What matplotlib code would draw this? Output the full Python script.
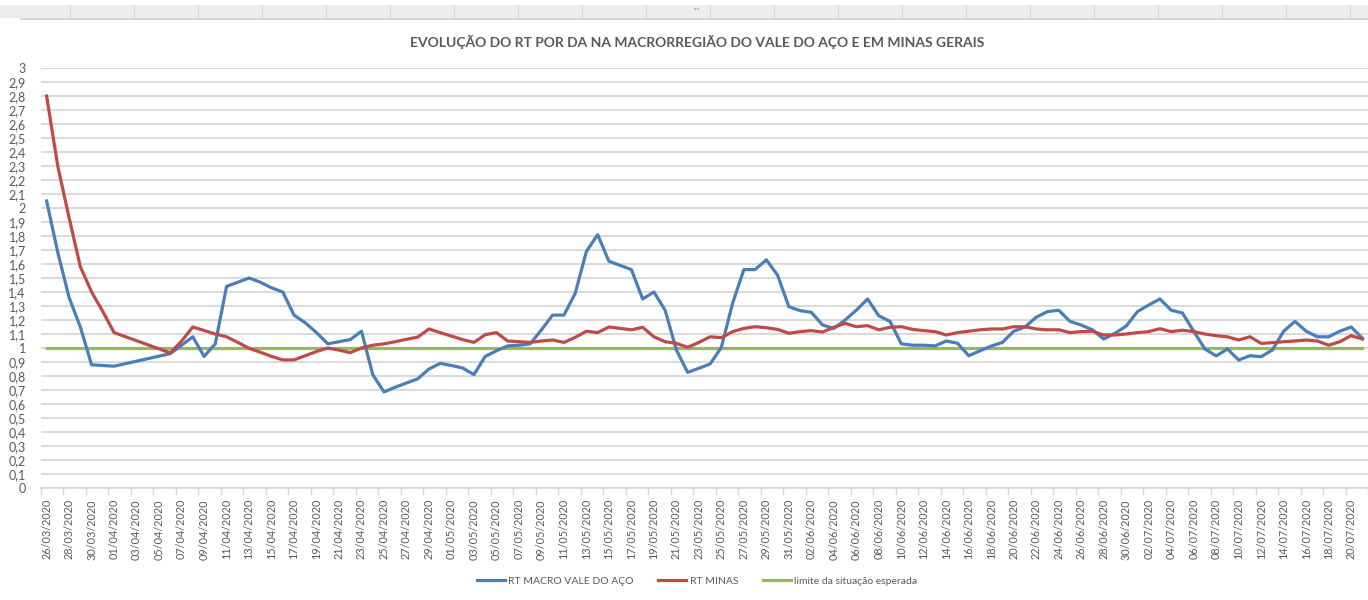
import matplotlib
matplotlib.use("Agg")
import matplotlib.pyplot as plt
from matplotlib.lines import Line2D
from matplotlib.patches import Rectangle
import pandas as pd

plt.rcParams['font.family'] = ['Lato', 'DejaVu Sans']

# ---- data ----
dates = pd.date_range("2020-03-26", "2020-07-21", freq="D")
date_labels = [d.strftime("%d/%m/%Y") for d in dates]

rt_macro_vale_do_aco = [
    2.05, 1.68, 1.36, 1.15, 0.88, 0.875, 0.87, 0.888, 0.906, 0.924,
    0.942, 0.96, 1.02, 1.08, 0.94, 1.03, 1.44, 1.47, 1.50, 1.47,
    1.43, 1.40, 1.235, 1.18, 1.11, 1.03, 1.045, 1.06, 1.12, 0.81,
    0.686, 0.72, 0.75, 0.78, 0.85, 0.89, 0.875, 0.857, 0.81, 0.94,
    0.98, 1.015, 1.02, 1.03, 1.13, 1.235, 1.235, 1.39, 1.69, 1.81,
    1.62, 1.59, 1.56, 1.35, 1.40, 1.27, 0.986, 0.826, 0.855, 0.886,
    1.005, 1.32, 1.56, 1.56, 1.63, 1.52, 1.295, 1.267, 1.255, 1.164,
    1.14, 1.20, 1.27, 1.35, 1.23, 1.19, 1.03, 1.02, 1.02, 1.015,
    1.05, 1.034, 0.945, 0.98, 1.014, 1.04, 1.12, 1.15, 1.22, 1.26,
    1.27, 1.19, 1.164, 1.13, 1.064, 1.105, 1.157, 1.26, 1.307, 1.35,
    1.27, 1.25, 1.12, 0.993, 0.943, 0.993, 0.914, 0.945, 0.938, 0.986,
    1.12, 1.19, 1.12, 1.08, 1.08, 1.12, 1.15, 1.07,
]

rt_minas = [
    2.80, 2.295, 1.93, 1.58, 1.40, 1.26, 1.11, 1.081, 1.052, 1.023,
    0.994, 0.965, 1.05, 1.15, 1.125, 1.10, 1.08, 1.04, 0.998, 0.97,
    0.94, 0.915, 0.915, 0.945, 0.975, 1.0, 0.985, 0.967, 1.0, 1.02,
    1.03, 1.045, 1.062, 1.078, 1.136, 1.11, 1.085, 1.06, 1.04, 1.095,
    1.11, 1.05, 1.045, 1.04, 1.05, 1.057, 1.04, 1.076, 1.12, 1.11,
    1.15, 1.14, 1.13, 1.148, 1.08, 1.045, 1.033, 1.005, 1.04, 1.08,
    1.074, 1.117, 1.14, 1.152, 1.145, 1.133, 1.105, 1.117, 1.124, 1.114,
    1.148, 1.176, 1.152, 1.16, 1.13, 1.148, 1.152, 1.133, 1.124, 1.117,
    1.093, 1.11, 1.12, 1.13, 1.136, 1.136, 1.152, 1.152, 1.136, 1.13,
    1.13, 1.11, 1.117, 1.12, 1.093, 1.093, 1.10, 1.11, 1.117, 1.138,
    1.117, 1.127, 1.117, 1.10, 1.088, 1.08, 1.057, 1.08, 1.033, 1.038,
    1.045, 1.05, 1.057, 1.05, 1.02, 1.045, 1.088, 1.064,
]

limite_valor = 1.0
limite = [limite_valor] * len(dates)

y_ticks = [i / 10 for i in range(0, 31)]
y_tick_labels = [("%g" % v).replace(".", ",") for v in y_ticks]

series_names = ["RT MACRO VALE DO AÇO", "RT MINAS", "limite da situação esperada"]
title = "EVOLUÇÃO DO RT POR DA NA MACRORREGIÃO DO VALE DO AÇO E EM MINAS GERAIS"

# ---- style ----
C_BLUE = "#4A7EBB"
C_RED = "#BE4B48"
C_GREEN = "#98B954"
C_TEXT = "#595959"
C_GRID = "#D9D9D9"

W, H = 1368, 600
fig = plt.figure(figsize=(W / 100, H / 100), dpi=100)

# top excel-like strip
fig.add_artist(Rectangle((0, 1 - 18 / H), 1, 13 / H, transform=fig.transFigure,
                         facecolor="#EDEDED", edgecolor="none", zorder=0))
fig.add_artist(Line2D([0.015, 1], [1 - 18.5 / H, 1 - 18.5 / H], transform=fig.transFigure,
                      color="#CFCFCF", lw=1.2))
for px in range(70, W, 64):
    fig.add_artist(Line2D([px / W, px / W], [1 - 18 / H, 1 - 5 / H], transform=fig.transFigure,
                          color="#D6D6D6", lw=0.8))
fig.text(697 / W, 1 - 12 / H, "''''", ha="center", va="center", fontsize=6, color="#999999")

left_px, right_px, top_px, bottom_px = 41, 1368, 68, 488
ax = fig.add_axes([left_px / W, 1 - bottom_px / H, (right_px - left_px) / W, (bottom_px - top_px) / H])

x = list(range(len(dates)))
ax.plot(x, rt_macro_vale_do_aco, color=C_BLUE, lw=2.3, solid_joinstyle="round", zorder=3,
        label=series_names[0])
ax.plot(x, rt_minas, color=C_RED, lw=2.3, solid_joinstyle="round", zorder=3,
        label=series_names[1])
ax.plot(x, limite, color=C_GREEN, lw=2.3, zorder=2, label=series_names[2])

ax.set_xlim(-0.5, len(dates) - 0.5)
ax.set_ylim(0, 3)
ax.set_yticks(y_ticks)
ax.set_yticklabels(y_tick_labels)
ax.yaxis.grid(True, color=C_GRID, lw=1.4)
ax.set_axisbelow(True)
ax.tick_params(axis="y", length=0, pad=11, labelsize=9, labelcolor=C_TEXT)

ax.set_xticks(x[::2])
ax.set_xticklabels(date_labels[::2], rotation=90)
ax.set_xticks([i - 0.5 for i in range(0, len(dates) + 1, 2)], minor=True)
ax.tick_params(axis="x", which="major", length=0, pad=8, labelsize=7.8, labelcolor=C_TEXT)
ax.tick_params(axis="x", which="minor", length=5, color=C_GRID, width=1)

for s in ["top", "right", "left"]:
    ax.spines[s].set_visible(False)
ax.spines["bottom"].set_color(C_GRID)
ax.spines["bottom"].set_linewidth(1.2)

fig.text(697 / W, 1 - 42 / H, title, ha="center", va="center", fontsize=10,
         fontweight="bold", color=C_TEXT)

leg = fig.legend(loc="center", bbox_to_anchor=(697 / W, 1 - 581 / H), ncol=3, frameon=False,
                 fontsize=7.5, handlelength=2.7, handletextpad=0.3, columnspacing=2.4,
                 labelcolor=C_TEXT)

fig.savefig("out.png", dpi=100, facecolor="white")
